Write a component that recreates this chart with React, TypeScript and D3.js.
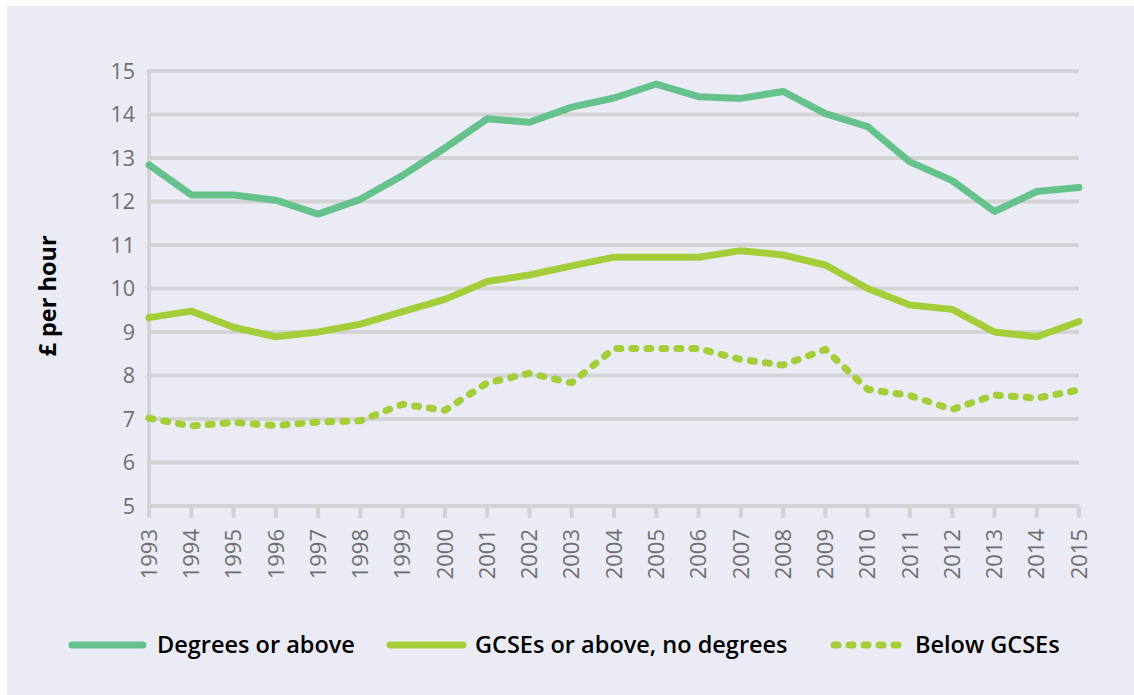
import React from "react";
import * as d3 from "d3";

const years = [
  1993, 1994, 1995, 1996, 1997, 1998, 1999, 2000, 2001, 2002, 2003, 2004,
  2005, 2006, 2007, 2008, 2009, 2010, 2011, 2012, 2013, 2014, 2015,
];

const degrees = [
  12.84, 12.15, 12.15, 12.03, 11.71, 12.05, 12.6, 13.23, 13.9, 13.82, 14.17,
  14.38, 14.7, 14.41, 14.37, 14.53, 14.02, 13.72, 12.91, 12.48, 11.77, 12.23,
  12.32,
];

const gcses = [
  9.33, 9.48, 9.11, 8.89, 9.0, 9.18, 9.47, 9.75, 10.16, 10.31, 10.52, 10.72,
  10.72, 10.72, 10.87, 10.77, 10.54, 10.0, 9.62, 9.52, 9.0, 8.89, 9.24,
];

const belowGcses = [
  7.02, 6.84, 6.92, 6.85, 6.93, 6.96, 7.34, 7.2, 7.83, 8.05, 7.83, 8.62, 8.62,
  8.62, 8.37, 8.24, 8.6, 7.68, 7.54, 7.22, 7.55, 7.48, 7.67,
];

const yTicks = [5, 6, 7, 8, 9, 10, 11, 12, 13, 14, 15];

const seriesNames = [
  "Degrees or above",
  "GCSEs or above, no degrees",
  "Below GCSEs",
];

const W = 1134;
const H = 695;
const tickColor = "#6d6e71";
const gridColor = "#d3d3d6";
const font = "'Open Sans', 'Noto Sans', sans-serif";

export default function App() {
  const x = d3.scalePoint<number>().domain(years).range([149, 1079]);
  const y = d3.scaleLinear().domain([5, 15]).range([506, 71]);

  const lineGen = d3
    .line<number>()
    .x((_, i) => x(years[i]) as number)
    .y((d) => y(d));

  const series = [
    { name: seriesNames[0], data: degrees, color: "#66c28c", dash: undefined },
    { name: seriesNames[1], data: gcses, color: "#a5cd39", dash: undefined },
    { name: seriesNames[2], data: belowGcses, color: "#a5cd39", dash: "4 11" },
  ];

  // legend layout: line start, line end, text start
  const legendPos = [
    [72, 143, 157],
    [390, 463, 475],
    [834, 906, 915],
  ];

  return (
    <div style={{ position: "absolute", left: 0, top: 0 }}>
      <svg width={W} height={H} style={{ display: "block" }}>
        <rect x={0} y={0} width={W} height={H} fill="#ffffff" />
        <rect x={7} y={6} width={W - 7} height={H - 6} fill="#ebebf5" />

        {yTicks.map((t) => (
          <g key={t}>
            <line
              x1={149}
              x2={1079}
              y1={y(t)}
              y2={y(t)}
              stroke={gridColor}
              strokeWidth={4}
            />
            <text
              x={135}
              y={y(t)}
              dy="0.35em"
              textAnchor="end"
              fill={tickColor}
              fontFamily={font}
              fontSize={21.5}
            >
              {t}
            </text>
          </g>
        ))}

        <line x1={149} x2={149} y1={69} y2={518} stroke={gridColor} strokeWidth={4} />
        {years.map((yr) => (
          <g key={yr}>
            <line
              x1={x(yr)}
              x2={x(yr)}
              y1={506}
              y2={518}
              stroke={gridColor}
              strokeWidth={4}
            />
            <text
              transform={`translate(${x(yr)},529) rotate(-90)`}
              dy="0.35em"
              textAnchor="end"
              fill={tickColor}
              fontFamily={font}
              fontSize={22}
            >
              {yr}
            </text>
          </g>
        ))}

        <text
          transform="translate(48,296) rotate(-90)"
          textAnchor="middle"
          dy="0.35em"
          fontFamily={font}
          fontWeight={700}
          fontSize={23.5}
          fill="#000"
        >
          £ per hour
        </text>

        {series.map((s) => (
          <path
            key={s.name}
            d={lineGen(s.data) || ""}
            fill="none"
            stroke={s.color}
            strokeWidth={7}
            strokeDasharray={s.dash}
            strokeLinecap="round"
            strokeLinejoin="round"
          />
        ))}

        {series.map((s, i) => (
          <g key={s.name}>
            <line
              x1={legendPos[i][0]}
              x2={legendPos[i][1]}
              y1={645}
              y2={645}
              stroke={s.color}
              strokeWidth={7}
              strokeDasharray={s.dash}
              strokeLinecap="round"
            />
            <text
              x={legendPos[i][2]}
              y={645}
              dy="0.35em"
              fontFamily={font}
              fontWeight={600}
              fontSize={23.5}
              fill="#000"
            >
              {s.name}
            </text>
          </g>
        ))}
      </svg>
    </div>
  );
}
